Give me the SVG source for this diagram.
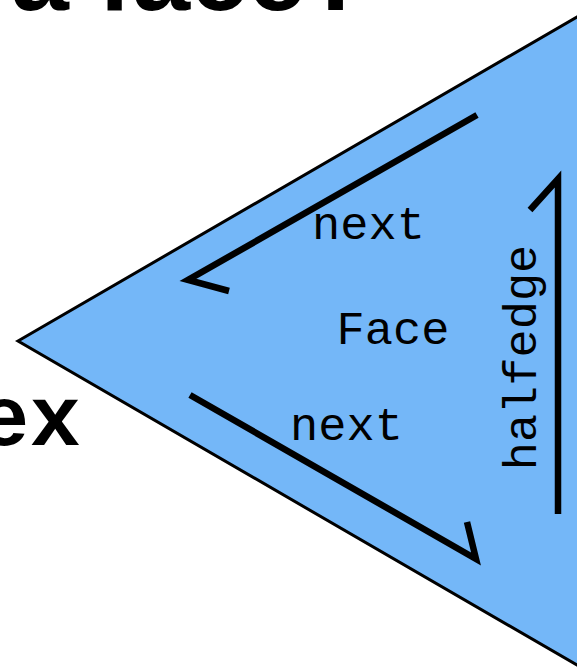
<svg xmlns="http://www.w3.org/2000/svg" width="577" height="669" viewBox="0 0 577 669">
  <style>
    .title { font-family: "Liberation Sans", Arial, sans-serif; font-weight: bold; fill: #000; }
    .big { font-family: "Liberation Mono", "Courier New", monospace; font-weight: bold; fill: #000; }
    .lbl { font-family: "Liberation Mono", "Courier New", monospace; font-size: 47px; fill: #000; }
    .arrow { fill: none; stroke: #000; stroke-width: 6.5; stroke-linejoin: miter; stroke-linecap: butt; }
  </style>
  <rect width="577" height="669" fill="#ffffff"/>
  <text class="title" x="11" y="10" font-size="104">a face?</text>
  <text class="big" x="81" y="445" font-size="86" text-anchor="end">ex</text>
  <g id="face">
    <polygon points="18,341 720,-66 720,748" fill="#74b7f8" stroke="#000" stroke-width="3" stroke-linejoin="miter"/>
    <text class="lbl" x="393" y="344" text-anchor="middle">Face</text>
  </g>
  <g id="connectors">
    <g id="next-top">
      <polyline class="arrow" points="477,115 188,280 229,291"/>
      <text class="lbl" x="368.5" y="239" text-anchor="middle">next</text>
    </g>
    <g id="next-bottom">
      <polyline class="arrow" points="190,395 476,559 467,522"/>
      <text class="lbl" x="346.5" y="440" text-anchor="middle">next</text>
    </g>
    <g id="halfedge">
      <polyline class="arrow" points="530,210 558,179 558,514"/>
      <text class="lbl" transform="translate(536,357.5) rotate(-90)" x="0" y="0" text-anchor="middle">halfedge</text>
    </g>
  </g>
</svg>
